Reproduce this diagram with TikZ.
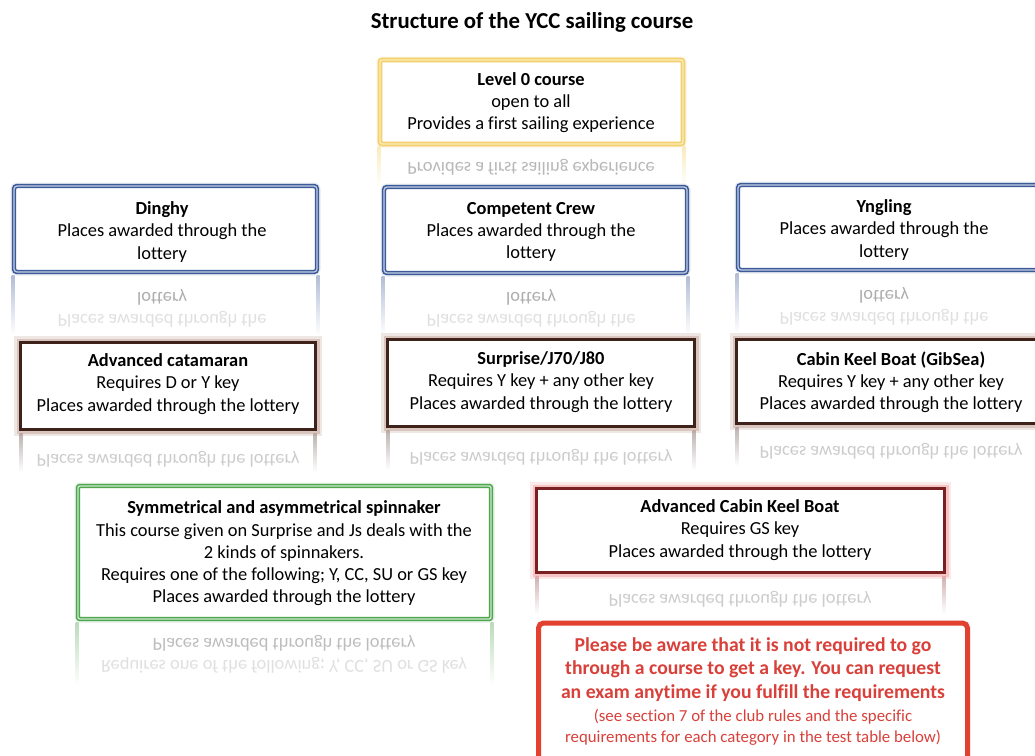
\documentclass[tikz,border=0pt]{standalone}
\usepackage{fontspec}
\setmainfont{Carlito}[Ligatures=NoCommon]
\definecolor{blueD}{HTML}{3D5A98}
\definecolor{blueL}{HTML}{C3CFE6}
\definecolor{yelD}{HTML}{F3D06A}
\definecolor{yelL}{HTML}{FBEDC0}
\definecolor{greenD}{HTML}{4FA64F}
\definecolor{greenL}{HTML}{CDE9CD}
\definecolor{brownD}{HTML}{3F2219}
\definecolor{brownG}{HTML}{B89484}
\definecolor{dredD}{HTML}{7A1F22}
\definecolor{dredG}{HTML}{F09A9A}
\definecolor{redD}{HTML}{E2412F}
\definecolor{redT}{HTML}{D9403A}
\newcommand\myedges[5]{%
  \shade[top color=#5, bottom color=white] (#1-1.5,#3) rectangle (#1+1.5,#4);
  \shade[top color=#5, bottom color=white] (#2-1.5,#3) rectangle (#2+1.5,#4);}
\begin{document}
\begin{tikzpicture}[x=1pt,y=-1pt,
  body/.style={align=center, inner sep=0pt, font=\fontsize{18.4}{22.2}\selectfont},
  refl/.style={align=center, inner sep=0pt, font=\fontsize{18.4}{22.2}\selectfont},
  frame/.style={inner sep=0pt, fill=white},
  bluebox/.style={frame, draw=blueD, double=blueL, line width=1.6pt, double distance=1.2pt, rounded corners=3pt,
     preaction={draw=blueD!25, line width=7pt, opacity=.5}},
  yelbox/.style={frame, draw=yelD, double=yelL, line width=1.6pt, double distance=1.4pt, rounded corners=2pt,
     preaction={draw=yelD!40, line width=7pt, opacity=.5}},
  greenbox/.style={frame, draw=greenD, double=greenL, line width=1.5pt, double distance=1.4pt, rounded corners=2pt,
     preaction={draw=greenD!30, line width=7pt, opacity=.5}},
  brownbox/.style={frame, draw=brownD, line width=3.8pt,
     preaction={draw=brownG, line width=13pt, opacity=.22},
     preaction={draw=brownG, line width=8pt, opacity=.4}},
  dredbox/.style={frame, draw=dredD, line width=3.8pt,
     preaction={draw=dredG, line width=13pt, opacity=.22},
     preaction={draw=dredG, line width=8pt, opacity=.45}},
  redbox/.style={frame, draw=redD, line width=5pt, rounded corners=5pt},
]
\useasboundingbox (0,0) rectangle (1035,755);
\clip (0,0) rectangle (1035,755);
\fill[white] (0,0) rectangle (1035,755);

% title
\node[inner sep=0pt, font=\bfseries\fontsize{22.8}{27}\selectfont] (title) at (532,22) {Structure of the YCC sailing course};

% reflections (drawn first)
\myedges{379}{684}{146}{186}{yelD!45}
\node[refl, text=black!28] (r0) at (531,167) {\scalebox{1}[-1]{Provides a first sailing experience}};

\myedges{13}{318}{275}{335}{blueD!40}
\node[refl, text=black!32] (r1a) at (162,297) {\scalebox{1}[-1]{lottery}};
\node[refl, text=black!12] (r1b) at (162,319) {\scalebox{1}[-1]{Places awarded through the}};

\myedges{383}{688}{276}{335}{blueD!40}
\node[refl, text=black!32] (r2a) at (531,297) {\scalebox{1}[-1]{lottery}};
\node[refl, text=black!12] (r2b) at (531,319) {\scalebox{1}[-1]{Places awarded through the}};

\myedges{737}{1042}{273}{333}{blueD!40}
\node[refl, text=black!32] (r3a) at (884,295) {\scalebox{1}[-1]{lottery}};
\node[refl, text=black!12] (r3b) at (884,317) {\scalebox{1}[-1]{Places awarded through the}};

\myedges{21}{315}{433}{472}{brownD!35}
\node[refl, text=black!20] (r4) at (168,459) {\scalebox{1}[-1]{Places awarded through the lottery}};

\myedges{388}{694}{430}{470}{brownD!35}
\node[refl, text=black!20] (r5) at (541,457) {\scalebox{1}[-1]{Places awarded through the lottery}};

\myedges{737}{1045}{427}{466}{brownD!35}
\node[refl, text=black!20] (r6) at (891,451) {\scalebox{1}[-1]{Places awarded through the lottery}};

\myedges{77}{492}{622}{685}{greenD!40}
\node[refl, text=black!26] (r7a) at (284,643) {\scalebox{1}[-1]{Places awarded through the lottery}};
\node[refl, text=black!12] (r7b) at (284,665) {\scalebox{1}[-1]{Requires one of the following; Y, CC, SU or GS key}};

\myedges{537}{944}{576}{614}{dredD!35}
\node[refl, text=black!20] (r8) at (740,599) {\scalebox{1}[-1]{Places awarded through the lottery}};

% frames
\node[yelbox, minimum width=303pt, minimum height=84pt] (lvl0) at (531.5,102) {};
\node[bluebox, minimum width=303pt, minimum height=86pt] (dinghy) at (165.5,229) {};
\node[bluebox, minimum width=303pt, minimum height=86pt] (cc) at (535.5,230) {};
\node[bluebox, minimum width=303pt, minimum height=85pt] (yng) at (889.5,227.5) {};
\node[brownbox, minimum width=295pt, minimum height=87pt] (advcat) at (168,386) {};
\node[brownbox, minimum width=307pt, minimum height=87pt] (surp) at (541,383) {};
\node[brownbox, minimum width=309pt, minimum height=84pt] (cabin) at (891,381.5) {};
\node[greenbox, minimum width=413pt, minimum height=133pt] (sym) at (284.5,552.5) {};
\node[dredbox, minimum width=408pt, minimum height=84pt] (advcabin) at (740.5,530.5) {};
\node[redbox, minimum width=429pt, minimum height=146pt] (note) at (753,696) {};

% texts
\node[body] (lvl0t) at (531,102.5) {\textbf{Level 0 course}\\open to all\\Provides a first sailing experience};
\node[body] (dinghyt) at (162,232) {\textbf{Dinghy}\\Places awarded through the\\lottery};
\node[body] (cct) at (531,232) {\textbf{Competent Crew}\\Places awarded through the\\lottery};
\node[body] (yngt) at (884,230) {\textbf{Yngling}\\Places awarded through the\\lottery};
\node[body] (advcatt) at (168,384) {\textbf{Advanced catamaran}\\Requires D or Y key\\Places awarded through the lottery};
\node[body] (surpt) at (541,382) {\textbf{Surprise/J70/J80}\\Requires Y key + any other key\\Places awarded through the lottery};
\node[body] (cabint) at (891,382) {\textbf{Cabin Keel Boat (GibSea)}\\Requires Y key + any other key\\Places awarded through the lottery};
\node[body] (symt) at (284,553.5) {\textbf{Symmetrical and asymmetrical spinnaker}\\This course given on Surprise and Js deals with the\\2 kinds of spinnakers.\\Requires one of the following; Y, CC, SU or GS key\\Places awarded through the lottery};
\node[body] (advcabint) at (740,530) {\textbf{Advanced Cabin Keel Boat}\\Requires GS key\\Places awarded through the lottery};
\node[align=center, inner sep=0pt, text=redT, font=\bfseries\fontsize{19.7}{23.7}\selectfont] (notea) at (753,669.5)
  {Please be aware that it is not required to go\\through a course to get a key. You can request\\an exam anytime if you fulfill the requirements};
\node[align=center, inner sep=0pt, text=redT, font=\fontsize{16.8}{20.8}\selectfont] (noteb) at (753,727.5)
  {(see section 7 of the club rules and the specific\\requirements for each category in the test table below)};
\end{tikzpicture}
\end{document}
